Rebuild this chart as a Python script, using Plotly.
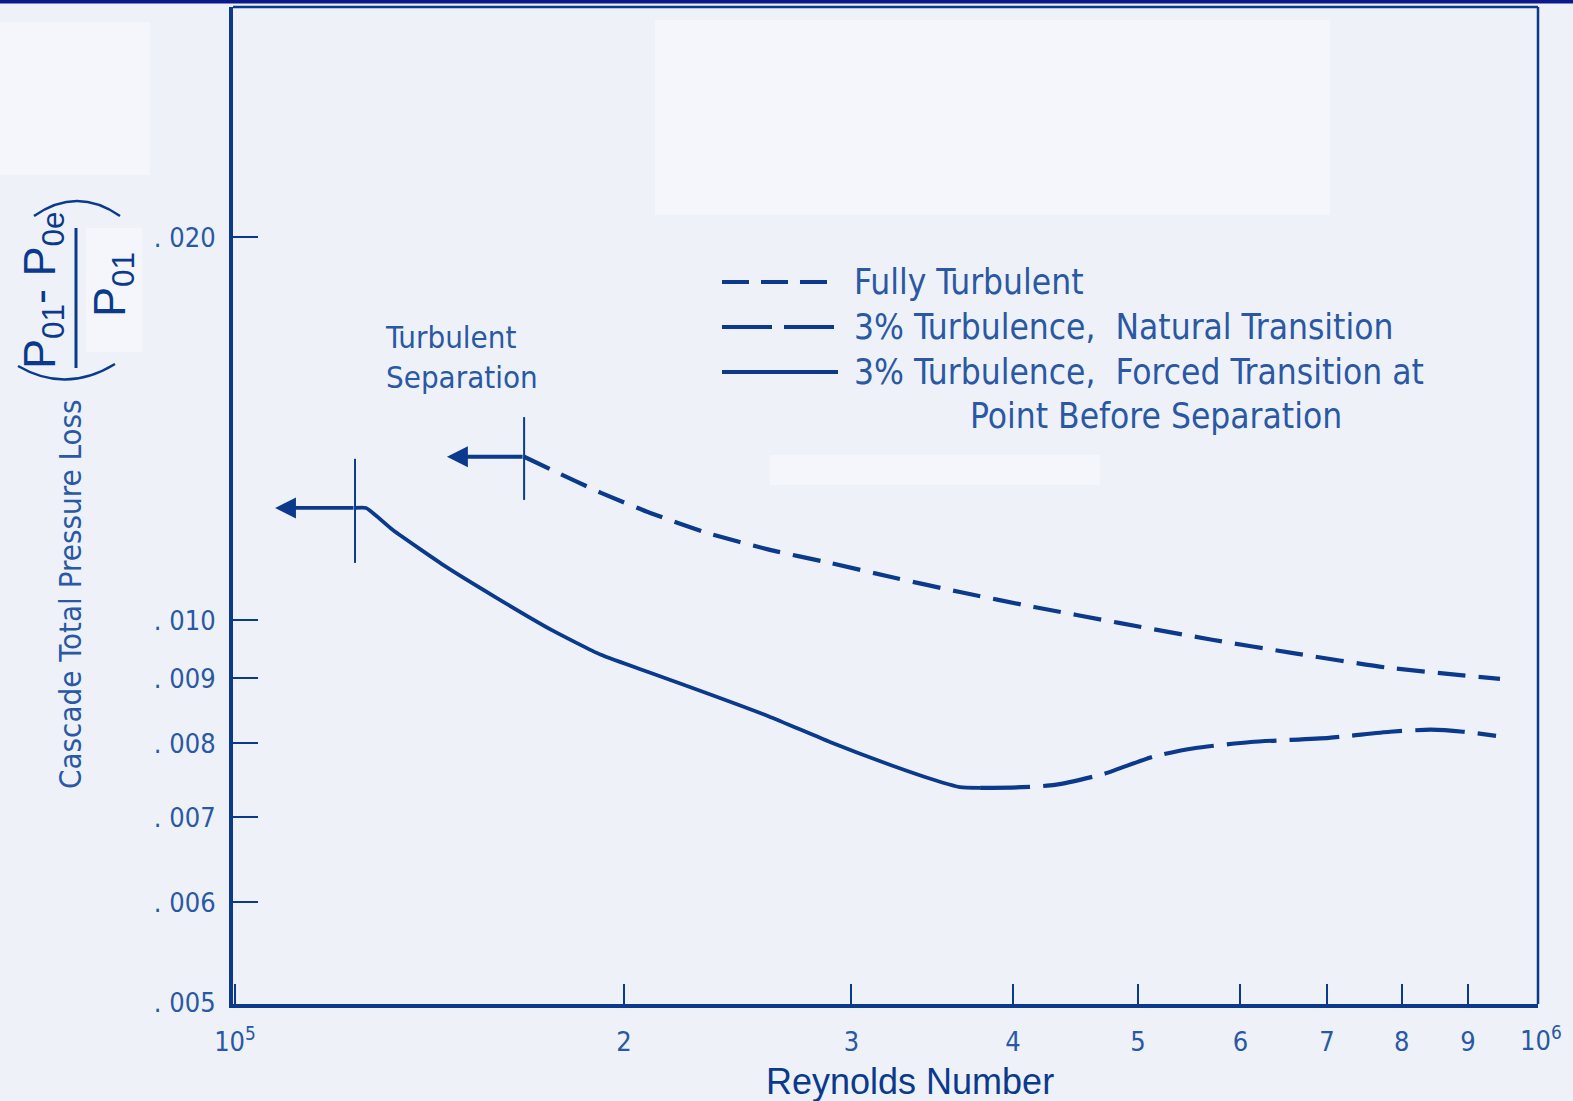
import numpy as np
import plotly.graph_objects as go

# ---------------- data ----------------
re_turb = [1.674e5, 1.759e5, 1.920e5, 2.096e5, 2.319e5, 2.590e5, 2.887e5, 3.220e5,
           3.640e5, 4.154e5, 4.832e5, 5.704e5, 6.592e5, 7.764e5, 9.530e5]
loss_turb = [0.01344, 0.01312, 0.01259, 0.01214, 0.01171, 0.01136, 0.01109, 0.01081,
             0.01052, 0.01024, 0.00995, 0.00965, 0.00942, 0.00918, 0.00899]

re_forced = [1.2385e5, 1.263e5, 1.325e5, 1.457e5, 1.589e5, 1.759e5, 1.920e5, 2.096e5,
             2.319e5, 2.590e5, 2.887e5, 3.220e5, 3.488e5, 3.640e5, 3.773e5]
loss_forced = [0.01225, 0.01225, 0.01177, 0.01101, 0.01043, 0.00982, 0.00939, 0.00909,
               0.00876, 0.00840, 0.00802, 0.00769, 0.00748, 0.00739, 0.00738]

re_natural = [3.773e5, 4.066e5, 4.312e5, 4.705e5, 5.134e5, 5.525e5, 6.114e5, 7.025e5,
              7.834e5, 8.428e5, 8.923e5, 9.463e5]
loss_natural = [0.00738, 0.00739, 0.00742, 0.00757, 0.00781, 0.00793, 0.00802, 0.00808,
                0.00817, 0.00820, 0.00817, 0.00811]

# turbulent separation markers (forced curve, fully turbulent curve)
sep_re = [1.2385e5, 1.674e5]
sep_loss = [0.01225, 0.01344]
sep_tick_lo = [0.01109, 0.01243]
sep_tick_hi = [0.01339, 0.01444]
sep_arrow_tip_re = [1.074e5, 1.459e5]

series_names = ["Fully Turbulent",
                "3% Turbulence,  Natural Transition",
                "3% Turbulence,  Forced Transition at",
                "Point Before Separation"]

x_tick_vals = [1e5, 2e5, 3e5, 4e5, 5e5, 6e5, 7e5, 8e5, 9e5]
x_tick_text = ["10<sup>5</sup>", "2", "3", "4", "5", "6", "7", "8", "9"]
x_end_label = "10<sup>6</sup>"
x_end_val = 1e6
y_tick_vals = [0.005, 0.006, 0.007, 0.008, 0.009, 0.010, 0.020]
y_tick_text = [". 005", ". 006", ". 007", ". 008", ". 009", ". 010", ". 020"]

# ---------------- style ----------------
W, H = 1573, 1101
L, R, T, B = 233, 1538, 7, 1004
LINE = "#0b3a8c"
TXT = "#2a58a4"
BG = "#eef2f8"
COND = "DejaVu Sans Condensed, Liberation Sans Narrow, DejaVu Sans, sans-serif"
ARIAL = "Liberation Sans, Arial, Helvetica, sans-serif"


def pxx(p):
    return (p - L) / (R - L)


def pxy(p):
    return (B - p) / (B - T)


fig = go.Figure()

fig.add_trace(go.Scatter(x=re_forced, y=loss_forced, mode="lines",
                         line=dict(color=LINE, width=3.8, shape="spline", smoothing=0.5),
                         showlegend=False, hoverinfo="skip"))
fig.add_trace(go.Scatter(x=re_natural, y=loss_natural, mode="lines",
                         line=dict(color=LINE, width=4.2, dash="50px,13px", shape="spline", smoothing=0.6),
                         showlegend=False, hoverinfo="skip"))
fig.add_trace(go.Scatter(x=re_turb, y=loss_turb, mode="lines",
                         line=dict(color=LINE, width=4.2, dash="28px,13px", shape="spline", smoothing=0.5),
                         showlegend=False, hoverinfo="skip"))

for i in range(len(sep_re)):
    fig.add_trace(go.Scatter(x=[sep_re[i], sep_re[i]], y=[sep_tick_lo[i], sep_tick_hi[i]],
                             mode="lines", line=dict(color=LINE, width=2),
                             showlegend=False, hoverinfo="skip"))
    fig.add_annotation(x=np.log10(sep_arrow_tip_re[i]), y=np.log10(sep_loss[i]),
                       ax=np.log10(sep_re[i]), ay=np.log10(sep_loss[i]),
                       xref="x", yref="y", axref="x", ayref="y",
                       text="", showarrow=True, arrowhead=2, arrowsize=1.1,
                       arrowwidth=3.8, arrowcolor=LINE)

shapes = []
# top navy band of the slide
shapes.append(dict(type="rect", xref="paper", yref="paper", x0=pxx(0), x1=pxx(W),
                   y0=pxy(3.5), y1=pxy(-2), fillcolor="#0a1a8a", line=dict(width=0), layer="above"))
# lighter patches of the scan
for (x0, y0, x1, y1) in [(655, 20, 1330, 215), (0, 22, 150, 175), (86, 228, 142, 352), (770, 455, 1100, 485)]:
    shapes.append(dict(type="rect", xref="paper", yref="paper", x0=pxx(x0), x1=pxx(x1),
                       y0=pxy(y1), y1=pxy(y0), fillcolor="#f4f6fb", line=dict(width=0), layer="below"))
# top and right frame lines
shapes.append(dict(type="line", xref="paper", yref="paper", x0=0, x1=1, y0=1, y1=1,
                   line=dict(color=LINE, width=2.5)))
shapes.append(dict(type="line", xref="paper", yref="paper", x0=1, x1=1, y0=0, y1=1,
                   line=dict(color=LINE, width=2.5)))
# legend sample lines
for yy, dash in [(282, "27px,12px"), (327, "50px,12px"), (372, "solid")]:
    shapes.append(dict(type="line", xref="paper", yref="paper", x0=pxx(722), x1=pxx(838),
                       y0=pxy(yy), y1=pxy(yy), line=dict(color=LINE, width=3.8, dash=dash)))
# fraction bar and parentheses of the y label
shapes.append(dict(type="line", xref="paper", yref="paper", x0=pxx(76), x1=pxx(76),
                   y0=pxy(368), y1=pxy(228), line=dict(color=LINE, width=3)))
shapes.append(dict(type="path", xref="paper", yref="paper",
                   path=f"M {pxx(34)},{pxy(216)} Q {pxx(77)},{pxy(186)} {pxx(120)},{pxy(216)}",
                   line=dict(color=LINE, width=2.5)))
shapes.append(dict(type="path", xref="paper", yref="paper",
                   path=f"M {pxx(18)},{pxy(366)} Q {pxx(66)},{pxy(394)} {pxx(115)},{pxy(364)}",
                   line=dict(color=LINE, width=2.5)))

# legend texts
leg_pos = [(852, 282), (852, 327), (852, 372), (968, 416)]
for (xx, yy), name in zip(leg_pos, series_names):
    fig.add_annotation(xref="paper", yref="paper", x=pxx(xx), y=pxy(yy), text=name,
                       showarrow=False, xanchor="left", yanchor="middle",
                       font=dict(family=COND, size=35, color=TXT))

fig.add_annotation(xref="paper", yref="paper", x=pxx(383), y=pxy(357),
                   text="Turbulent<br>Separation", align="left", showarrow=False,
                   xanchor="left", yanchor="middle", font=dict(family=COND, size=31, color=TXT))

fig.add_annotation(xref="paper", yref="paper", x=pxx(70), y=pxy(594),
                   text="Cascade Total Pressure Loss", textangle=-90, showarrow=False,
                   xanchor="center", yanchor="middle", font=dict(family=COND, size=31, color=TXT))
fig.add_annotation(xref="paper", yref="paper", x=pxx(43), y=pxy(290),
                   text="P<sub>01</sub>- P<sub>0e</sub>", textangle=-90, showarrow=False,
                   xanchor="center", yanchor="middle", font=dict(family=ARIAL, size=45, color=LINE))
fig.add_annotation(xref="paper", yref="paper", x=pxx(112), y=pxy(285),
                   text="P<sub>01</sub>", textangle=-90, showarrow=False,
                   xanchor="center", yanchor="middle", font=dict(family=ARIAL, size=45, color=LINE))

fig.add_annotation(xref="x", yref="paper", x=np.log10(x_end_val), y=pxy(1038),
                   xshift=14, text=x_end_label, showarrow=False,
                   xanchor="center", yanchor="middle", font=dict(family=COND, size=27, color=TXT))

fig.add_annotation(xref="paper", yref="paper", x=pxx(910), y=pxy(1081),
                   text="Reynolds Number", showarrow=False,
                   xanchor="center", yanchor="middle", font=dict(family=ARIAL, size=36, color=LINE))

fig.update_layout(
    width=W, height=H,
    margin=dict(l=L, r=W - R, t=T, b=H - B, pad=0),
    paper_bgcolor=BG, plot_bgcolor=BG,
    shapes=shapes,
    showlegend=False,
    xaxis=dict(type="log", range=[4.99845, 6.0085], showgrid=False, zeroline=False,
               showline=True, linewidth=4, linecolor=LINE,
               ticks="inside", ticklen=20, tickwidth=2, tickcolor=LINE,
               tickvals=x_tick_vals, ticktext=x_tick_text, ticklabelstandoff=11,
               tickfont=dict(family=COND, size=27, color=TXT)),
    yaxis=dict(type="log", range=[-2.30182, -1.51803], showgrid=False, zeroline=False,
               showline=True, linewidth=4, linecolor=LINE,
               ticks="inside", ticklen=25, tickwidth=2, tickcolor=LINE,
               tickvals=y_tick_vals, ticktext=y_tick_text, ticklabelstandoff=8,
               tickfont=dict(family=COND, size=27, color=TXT)),
)

fig.write_html("out.html", config={"displayModeBar": False},
               post_script="document.body.style.margin='0';document.body.style.background='%s';" % BG)
